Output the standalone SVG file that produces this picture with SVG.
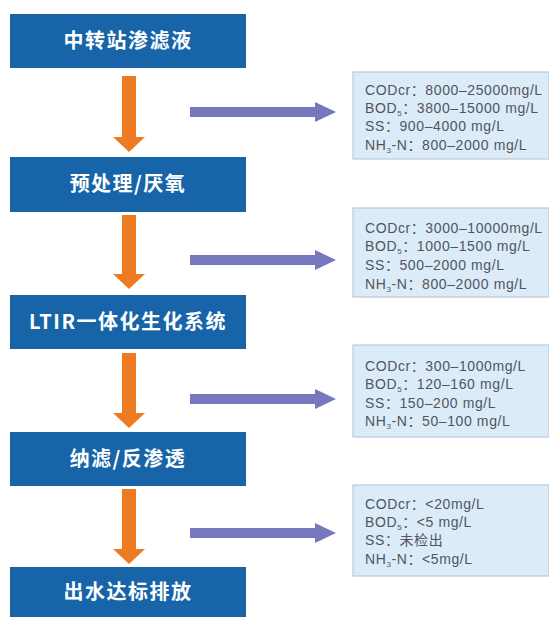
<svg xmlns="http://www.w3.org/2000/svg" width="549" height="617" viewBox="0 0 549 617">
<style>
.step{fill:#1764a8}
.stxt{fill:#ffffff;font-family:"Noto Sans CJK SC","Liberation Sans",sans-serif;font-weight:bold;font-size:20px;text-anchor:middle;letter-spacing:1.5px}
.info{fill:#dcebf8;stroke:#b9cad9;stroke-width:1.2}
.itxt{fill:#50565e;font-family:"Liberation Sans","Noto Sans CJK SC",sans-serif;font-size:14px;letter-spacing:0.6px}
.sub{font-size:8px}
.down{fill:#ee7b22}
.right{fill:#7777bd}
</style>
<rect width="549" height="617" fill="#ffffff"/>
<g id="connectors">
<polygon class="down" points="122,76 136,76 136,137 145,137 129,152 113,137 122,137"/>
<polygon class="down" points="122,215 136,215 136,274 145,274 129,289 113,274 122,274"/>
<polygon class="down" points="122,353 136,353 136,413 145,413 129,428 113,413 122,413"/>
<polygon class="down" points="122,489 136,489 136,549 145,549 129,564 113,549 122,549"/>
<polygon class="right" points="190,107 315,107 315,102 336,112 315,122 315,117 190,117"/>
<polygon class="right" points="190,255 315,255 315,250 336,260 315,270 315,265 190,265"/>
<polygon class="right" points="190,394 315,394 315,389 336,399 315,409 315,404 190,404"/>
<polygon class="right" points="190,528 315,528 315,523 336,533 315,543 315,538 190,538"/>
</g>
<g id="step1"><rect class="step" x="10" y="14" width="236" height="54"/><text class="stxt" x="128" y="48">中转站渗滤液</text></g>
<g id="step2"><rect class="step" x="10" y="157" width="236" height="55"/><text class="stxt" x="128" y="191">预处理/厌氧</text></g>
<g id="step3"><rect class="step" x="10" y="295" width="236" height="54"/><text class="stxt" x="128" y="329">LTIR一体化生化系统</text></g>
<g id="step4"><rect class="step" x="10" y="432" width="236" height="54"/><text class="stxt" x="128" y="466">纳滤/反渗透</text></g>
<g id="step5"><rect class="step" x="10" y="567" width="236" height="55"/><text class="stxt" x="128" y="599">出水达标排放</text></g>
<g id="info1"><rect class="info" x="353" y="72" width="196" height="87"/>
<text class="itxt" x="365" y="95">CODcr：8000–25000mg/L</text>
<text class="itxt" x="365" y="113">BOD<tspan class="sub" dy="3">5</tspan><tspan dy="-3">：3800–15000 mg/L</tspan></text>
<text class="itxt" x="365" y="131">SS：900–4000 mg/L</text>
<text class="itxt" x="365" y="150">NH<tspan class="sub" dy="3">3</tspan><tspan dy="-3">-N：800–2000 mg/L</tspan></text></g>
<g id="info2"><rect class="info" x="353" y="208" width="196" height="89"/>
<text class="itxt" x="365" y="233">CODcr：3000–10000mg/L</text>
<text class="itxt" x="365" y="251">BOD<tspan class="sub" dy="3">5</tspan><tspan dy="-3">：1000–1500 mg/L</tspan></text>
<text class="itxt" x="365" y="270">SS：500–2000 mg/L</text>
<text class="itxt" x="365" y="289">NH<tspan class="sub" dy="3">3</tspan><tspan dy="-3">-N：800–2000 mg/L</tspan></text></g>
<g id="info3"><rect class="info" x="353" y="345" width="196" height="92"/>
<text class="itxt" x="365" y="371">CODcr：300–1000mg/L</text>
<text class="itxt" x="365" y="389">BOD<tspan class="sub" dy="3">5</tspan><tspan dy="-3">：120–160 mg/L</tspan></text>
<text class="itxt" x="365" y="408">SS：150–200 mg/L</text>
<text class="itxt" x="365" y="426">NH<tspan class="sub" dy="3">3</tspan><tspan dy="-3">-N：50–100 mg/L</tspan></text></g>
<g id="info4"><rect class="info" x="353" y="485" width="196" height="91"/>
<text class="itxt" x="365" y="509">CODcr：&lt;20mg/L</text>
<text class="itxt" x="365" y="527">BOD<tspan class="sub" dy="3">5</tspan><tspan dy="-3">：&lt;5 mg/L</tspan></text>
<text class="itxt" x="365" y="545">SS：未检出</text>
<text class="itxt" x="365" y="564">NH<tspan class="sub" dy="3">3</tspan><tspan dy="-3">-N：&lt;5mg/L</tspan></text></g>
</svg>
